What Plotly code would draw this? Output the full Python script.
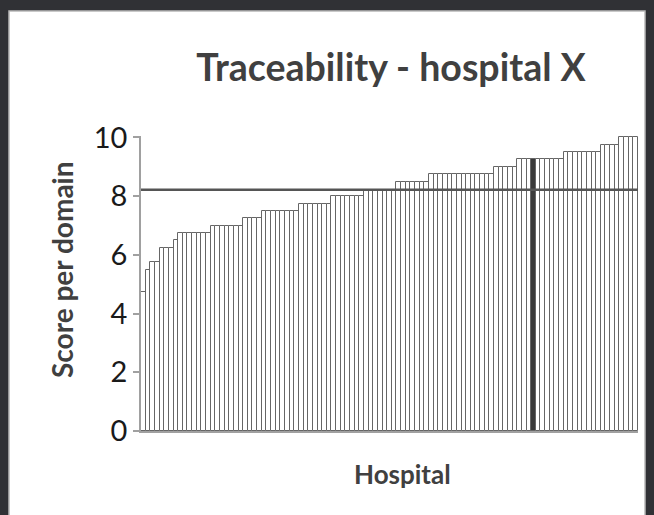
import plotly.graph_objects as go

# ---- data ----
scores = [
    4.75, 5.5, 5.75, 5.75, 6.25, 6.25, 6.25, 6.5,
    6.75, 6.75, 6.75, 6.75, 6.75, 6.75, 6.75,
    7.0, 7.0, 7.0, 7.0, 7.0, 7.0, 7.0,
    7.25, 7.25, 7.25, 7.25,
    7.5, 7.5, 7.5, 7.5, 7.5, 7.5, 7.5, 7.5,
    7.75, 7.75, 7.75, 7.75, 7.75, 7.75, 7.75,
    8.0, 8.0, 8.0, 8.0, 8.0, 8.0, 8.0,
    8.2, 8.2, 8.2, 8.2, 8.2, 8.2, 8.2,
    8.5, 8.5, 8.5, 8.5, 8.5, 8.5, 8.5,
    8.75, 8.75, 8.75, 8.75, 8.75, 8.75, 8.75, 8.75, 8.75, 8.75, 8.75, 8.75, 8.75, 8.75,
    9.0, 9.0, 9.0, 9.0, 9.0,
    9.25, 9.25, 9.25, 9.25, 9.25, 9.25, 9.25, 9.25, 9.25, 9.25,
    9.5, 9.5, 9.5, 9.5, 9.5, 9.5, 9.5, 9.5,
    9.75, 9.75, 9.75, 9.75,
    10.0, 10.0, 10.0, 10.0,
]
hospitals = list(range(1, len(scores) + 1))
highlight_index = 84          # hospital X
reference_score = 8.22        # horizontal reference line
y_ticks = [0, 2, 4, 6, 8, 10]
y_tick_labels = ["0", "2", "4", "6", "8", "10"]

title_text = "Traceability - hospital X"
y_title = "Score per domain"
x_title = "Hospital"

# ---- layout geometry ----
W, H = 654, 515
ml, mr, mt, mb = 141, 16, 136, 84
pw, ph = W - ml - mr, H - mt - mb

def px_x(px):
    return (px - ml) / pw

def px_y(py):
    return (H - mb - py) / ph

FONT = "Lato"
frame_col = "#303135"

fill_colors = ["#3a3a3a" if i == highlight_index else "#ffffff" for i in range(len(scores))]

fig = go.Figure()
fig.add_trace(go.Bar(
    x=hospitals, y=scores,
    marker=dict(color=fill_colors, line=dict(color="#666666", width=1)),
    hoverinfo="x+y",
))

fig.add_hline(y=reference_score, line=dict(color="#555555", width=2.5), layer="above")

# white inner panel on top of the dark paper background, with a light inner edge
fig.add_shape(type="rect", xref="paper", yref="paper",
              x0=px_x(9), x1=px_x(645), y0=px_y(H + 2), y1=px_y(11),
              fillcolor="#ffffff", line=dict(color="#b8b8b8", width=1.5), layer="below")

fig.add_annotation(text=f"<b>{y_title}</b>", xref="paper", yref="paper",
                   x=px_x(62), y=px_y(270), textangle=-90, showarrow=False,
                   font=dict(family=FONT, size=28, color="#404040"),
                   xanchor="center", yanchor="middle")
fig.add_annotation(text=f"<b>{x_title}</b>", xref="paper", yref="paper",
                   x=px_x(402), y=px_y(474), showarrow=False,
                   font=dict(family=FONT, size=26, color="#404040"),
                   xanchor="center", yanchor="middle")

fig.update_layout(
    width=W, height=H,
    margin=dict(l=ml, r=mr, t=mt, b=mb),
    paper_bgcolor=frame_col, plot_bgcolor="#ffffff",
    bargap=0, showlegend=False,
    title=dict(text=f"<b>{title_text}</b>", x=px_x(391), xref="paper", xanchor="center",
               y=1 - 68 / H, yref="container", yanchor="middle",
               font=dict(family=FONT, size=37.5, color="#404040")),
    xaxis=dict(range=[0.5, len(scores) + 0.5], showticklabels=False, ticks="",
               showgrid=False, zeroline=False, showline=True, linecolor="#a0a0a0", linewidth=1.5),
    yaxis=dict(range=[0, 10.05], tickvals=y_ticks, ticktext=y_tick_labels,
               ticks="outside", ticklen=6, tickcolor="#a0a0a0", tickwidth=1.5,
               showgrid=False, zeroline=False, showline=True, linecolor="#a0a0a0", linewidth=1.5,
               tickfont=dict(family=FONT, size=29, color="#1a1a1a")),
)

fig.write_html("out.html", config={"displayModeBar": False},
               post_script="document.body.style.margin='0';document.body.style.overflow='hidden';")
